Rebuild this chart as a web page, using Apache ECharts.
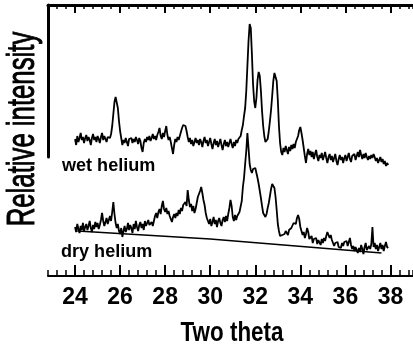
<!DOCTYPE html>
<html>
<head>
<meta charset="utf-8">
<script src="https://cdn.jsdelivr.net/npm/echarts@6/dist/echarts.min.js"></script>
<style>
  html, body { margin: 0; padding: 0; background: #fff; }
  #main { width: 413px; height: 349px; }
</style>
</head>
<body>
<div id="main"></div>
<script>
//scan starts at 24 degrees, one reading every 0.05 degrees
var thetaStart = 24;
var thetaStep = 0.05;

//relative intensity (arbitrary units), rows of 0.5 degree
var wetHelium = [
  137,131,140,134,138,143,136,139,133,138,
  141,135,139,136,131,138,142,136,139,134,
  140,137,133,139,143,136,140,137,134,139,
  141,138,142,150,162,174,179,177,168,155,
  145,138,131,136,133,138,134,130,137,135,
  138,133,137,134,139,136,132,138,135,128,
  124,133,137,134,139,136,140,135,138,142,
  137,140,136,141,144,148,140,137,143,139,
  145,150,141,136,139,134,128,122,131,137,
  134,139,136,140,144,148,151,153,150,145,
  139,134,138,132,136,130,134,138,133,136,
  131,137,134,129,135,139,133,136,130,134,
  138,132,127,133,137,131,135,129,133,137,
  131,126,132,136,130,134,129,133,137,132,
  128,134,130,136,133,137,135,140,146,151,
  160,168,185,210,235,252,248,222,192,175,
  168,178,196,204,200,185,165,150,140,134,
  132,137,145,155,166,180,195,203,204,195,
  176,150,133,124,121,128,124,130,126,122,
  129,125,131,127,132,128,134,137,140,146,
  149,143,136,128,120,113,122,127,121,125,
  119,124,117,122,126,119,115,121,118,123,
  116,120,124,118,113,119,122,116,120,114,
  118,122,115,111,117,121,116,119,113,118,
  121,115,119,123,117,114,120,118,122,116,
  120,124,119,126,121,117,122,118,123,119,
  116,120,117,121,118,122,119,115,118,113,
  116,119,114,117,112,115,110,113,111
];

var dryHelium = [
  49,44,52,47,43,50,46,53,45,49,
  52,46,50,55,48,44,51,47,54,49,
  53,47,51,56,63,55,50,54,58,52,
  56,60,55,64,74,62,53,48,52,45,
  42,48,39,45,50,44,47,53,46,51,
  48,43,52,47,55,49,45,51,54,48,
  52,46,55,50,48,56,51,49,54,50,
  55,60,63,58,64,67,62,70,75,67,
  64,68,62,65,60,57,54,59,62,58,
  63,60,66,62,68,65,71,69,74,70,
  86,76,69,72,65,70,63,67,73,79,
  80,85,89,83,76,71,63,58,55,52,
  57,50,54,59,52,56,49,55,58,53,
  50,56,59,54,60,55,62,68,76,70,
  59,55,61,56,60,58,64,63,75,89,
  98,112,125,143,128,112,106,103,107,109,
  108,103,98,92,85,78,70,63,61,59,
  62,68,73,80,87,92,93,88,79,66,
  52,45,40,39,41,39,42,45,43,41,
  46,44,48,50,53,55,52,58,61,57,
  49,45,41,44,38,42,48,44,37,36,
  40,33,37,35,38,32,36,34,31,37,
  33,38,35,40,44,42,38,41,36,33,
  30,33,31,34,29,31,28,33,30,34,
  32,35,30,34,38,31,27,30,25,29,
  26,23,28,24,31,27,22,29,33,26,
  24,30,27,32,49,29,33,27,31,25,
  29,33,27,31,25,30,34,29,28
];

//background line drawn under the dry trace
var baselineTheta = [24.1, 30.0, 37.6];
var baselineValue = [45, 37, 23];

var xTicks = [24, 26, 28, 30, 32, 34, 36, 38];

var font = '"Liberation Sans", Arial, sans-serif';

function toPairs(values) {
  return values.map(function (v, i) {
    return [+(thetaStart + i * thetaStep).toFixed(2), v];
  });
}

var baseline = baselineTheta.map(function (t, i) {
  return [t, baselineValue[i]];
});

var myChart = echarts.init(document.getElementById('main'));

var xMin = 22.8, xMax = 39.0;

option = {
  animation: false,
  backgroundColor: '#fff',
  grid: [
    { left: 48, right: 0, top: 5, bottom: 73 },
    //upper frame: only here the left line is drawn
    { left: 48, right: 0, top: 5, height: 152 }
  ],
  xAxis: [
    {
      gridIndex: 0, type: 'value', position: 'bottom',
      min: xMin, max: xMax, interval: 0.4,
      axisLine: { onZero: false, lineStyle: { color: '#000', width: 2 } },
      axisTick: { inside: true, length: 6, lineStyle: { color: '#000', width: 1.5 } },
      axisLabel: { show: false },
      splitLine: { show: false }
    },
    {
      gridIndex: 0, type: 'value', position: 'bottom',
      min: xMin, max: xMax,
      axisLine: { show: false, onZero: false },
      axisTick: { inside: true, length: 11, customValues: xTicks, lineStyle: { color: '#000', width: 2 } },
      axisLabel: {
        customValues: xTicks, margin: 10, color: '#000',
        fontSize: 23, fontWeight: 'bold', fontFamily: font
      },
      splitLine: { show: false }
    },
    {
      gridIndex: 1, type: 'value', position: 'top',
      min: xMin, max: xMax, interval: 0.4,
      axisLine: { onZero: false, lineStyle: { color: '#000', width: 3 } },
      axisTick: { inside: true, length: 4, lineStyle: { color: '#000', width: 1.5 } },
      axisLabel: { show: false },
      splitLine: { show: false }
    },
    {
      gridIndex: 1, type: 'value', position: 'top',
      min: xMin, max: xMax,
      axisLine: { show: false, onZero: false },
      axisTick: { inside: true, length: 8, customValues: xTicks, lineStyle: { color: '#000', width: 2 } },
      axisLabel: { show: false },
      splitLine: { show: false }
    }
  ],
  yAxis: [
    { gridIndex: 0, type: 'value', min: 0, max: 271, show: false },
    {
      gridIndex: 1, type: 'value', min: 0, max: 1,
      axisLine: { show: true, onZero: false, lineStyle: { color: '#000', width: 3 } },
      axisTick: { show: false },
      axisLabel: { show: false },
      splitLine: { show: false }
    }
  ],
  graphic: [
    {
      type: 'text', x: 23, y: 129, rotation: Math.PI / 2, scaleX: 0.66,
      style: {
        text: 'Relative intensity', font: '39px ' + font, fill: '#000',
        stroke: '#000', lineWidth: 1,
        textAlign: 'center', verticalAlign: 'middle', textVerticalAlign: 'middle'
      }
    },
    {
      type: 'text', x: 232, y: 333, scaleX: 0.8,
      style: {
        text: 'Two theta', font: 'bold 28px ' + font, fill: '#000',
        textAlign: 'center', verticalAlign: 'middle', textVerticalAlign: 'middle'
      }
    },
    {
      type: 'text', x: 62, y: 166, scaleX: 0.95,
      style: {
        text: 'wet helium', font: 'bold 19px ' + font, fill: '#000',
        textAlign: 'left', verticalAlign: 'middle', textVerticalAlign: 'middle'
      }
    },
    {
      type: 'text', x: 61, y: 252, scaleX: 0.95,
      style: {
        text: 'dry helium', font: 'bold 19px ' + font, fill: '#000',
        textAlign: 'left', verticalAlign: 'middle', textVerticalAlign: 'middle'
      }
    }
  ],
  series: [
    {
      name: 'wet helium', type: 'line', xAxisIndex: 0, yAxisIndex: 0,
      data: toPairs(wetHelium), showSymbol: false,
      lineStyle: { color: '#000', width: 1.8 }
    },
    {
      name: 'dry helium', type: 'line', xAxisIndex: 0, yAxisIndex: 0,
      data: toPairs(dryHelium), showSymbol: false,
      lineStyle: { color: '#000', width: 1.8 }
    },
    {
      name: 'baseline', type: 'line', xAxisIndex: 0, yAxisIndex: 0,
      data: baseline, showSymbol: false,
      lineStyle: { color: '#000', width: 1.6 }
    }
  ]
};
myChart.setOption(option);
</script>
</body>
</html>
